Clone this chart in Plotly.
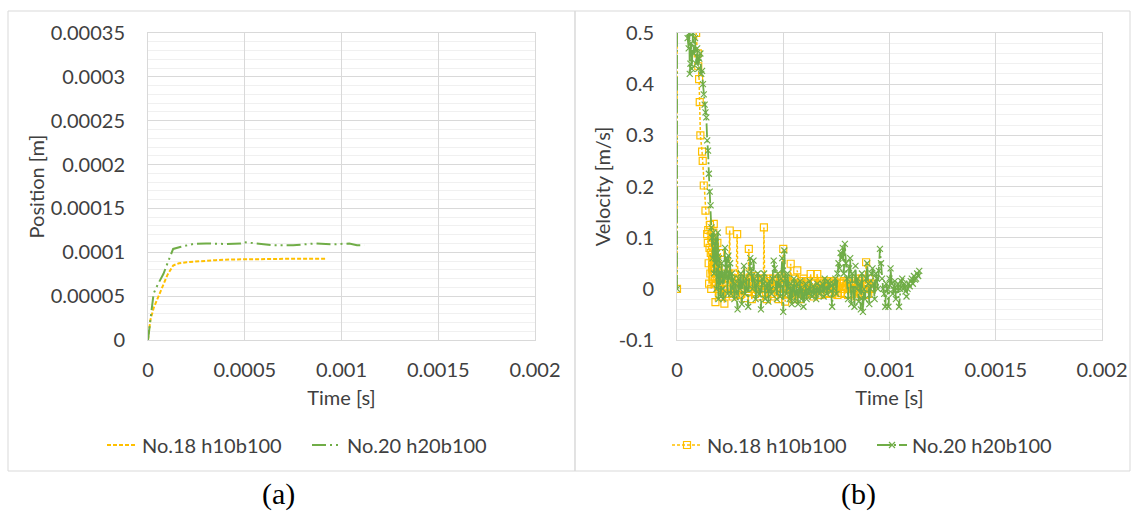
import plotly.graph_objects as go

# ---------------- data ----------------
# (a) Position vs time  (time in microseconds, position in metres)
pos18_t_us = [0, 12, 30, 46, 62, 80, 100, 130, 160, 200, 260, 350, 430, 500, 600, 700, 800, 920]
pos18_y = [0, 0.0000226, 0.000037, 0.0000453, 0.000055, 0.000064, 0.000074, 0.000085, 0.0000875,
           0.0000887, 0.0000898, 0.0000910, 0.0000918, 0.0000922, 0.0000924, 0.0000925, 0.0000925, 0.0000925]

pos20_t_us = [0, 10, 20, 29, 50, 80, 105, 130, 166, 234, 300, 400, 480, 500, 560, 650, 750, 860, 950, 1000, 1040, 1080, 1118]
pos20_y = [0, 0.000018, 0.000034, 0.000053, 0.000063, 0.0000755, 0.000090, 0.0001038, 0.000106, 0.0001095,
           0.000110, 0.0001095, 0.000110, 0.0001115, 0.000110, 0.000108, 0.000108, 0.000110, 0.000109,
           0.000110, 0.000110, 0.000108, 0.000108]

# (b) Velocity vs time (time in microseconds, velocity in m/s)
vel18_t_us = [0, 5, 90, 98, 100, 104, 107, 110, 118, 121, 126, 134, 142, 145, 147, 149, 151, 153, 155, 157,
              159, 161, 163, 165, 167, 169, 171, 173, 175, 177, 179, 181, 184, 187, 190, 193, 196, 200, 204,
              208, 212, 216, 220, 223, 228, 233, 238, 243, 248, 252, 257, 262, 267, 272, 277, 283, 287, 292,
              297, 302, 308, 313, 318, 323, 328, 333, 338, 342, 347, 352, 357, 362, 367, 372, 377, 382, 387,
              392, 397, 402, 407, 409, 413, 418, 423, 428, 433, 438, 443, 448, 453, 458, 463, 468, 473, 478,
              483, 488, 493, 497, 500, 504, 509, 514, 519, 524, 529, 535, 540, 545, 550, 555, 560, 566, 571,
              576, 581, 586, 591, 596, 601, 606, 611, 616, 621, 629, 634, 639, 644, 649, 654, 660, 665, 670,
              675, 680, 685, 690, 695, 700, 705, 710, 715, 720, 725, 730, 735, 740, 745, 750, 755, 760, 765,
              770, 775, 780, 785, 790, 795, 800, 805, 810, 815, 820, 825, 830, 835, 840, 845, 850, 855, 860,
              865, 870, 875, 880, 885, 890, 895, 900, 905, 910, 915, 920, 925, 928]
vel18_v = [0, 5.0, 0.50, 0.46, 0.435, 0.41, 0.365, 0.30, 0.268, 0.25, 0.202, 0.153, 0.107, 0.09, 0.115, 0.05,
           0.01, 0.08, 0.125, 0.03, 0.07, 0.0, 0.10, 0.04, 0.06, 0.02, 0.11, 0.127, 0.05, 0.01, 0.085, -0.026,
           0.06, 0.02, 0.09, 0.0, 0.04, -0.01, 0.07, 0.02, -0.015, 0.03, 0.0, -0.029, 0.02, 0.005, -0.01, 0.03,
           0.114, 0.0, 0.02, -0.015, 0.01, 0.03, -0.01, 0.107, 0.0, 0.02, -0.012, 0.015, 0.0, 0.02, -0.018,
           0.01, 0.03, -0.005, 0.078, 0.0, 0.02, -0.02, 0.01, 0.025, -0.01, 0.015, 0.0, 0.02, -0.015, 0.005,
           0.018, -0.008, 0.02, 0.12, 0.0, 0.01, -0.02, 0.015, 0.0, 0.02, -0.01, 0.005, 0.02, -0.015, 0.01,
           0.0, 0.015, -0.02, 0.01, 0.025, -0.01, 0.02, 0.078, 0.005, -0.025, 0.02, -0.01, 0.015, 0.0, 0.049,
           -0.015, 0.01, -0.02, 0.02, 0.0, 0.036, -0.01, 0.01, -0.02, 0.015, 0.0, 0.02, -0.012, 0.01, -0.005,
           0.015, 0.0, 0.029, -0.01, 0.01, -0.015, 0.012, 0.0, 0.029, -0.005, 0.01, -0.012, 0.015, 0.0, 0.012,
           -0.01, 0.005, 0.015, -0.008, 0.01, 0.0, 0.012, -0.01, 0.008, 0.015, -0.005, 0.01, -0.012, 0.005,
           0.012, -0.008, 0.01, 0.0, 0.015, -0.01, 0.005, 0.012, -0.012, 0.008, 0.0, 0.015, -0.01, 0.01,
           0.0, 0.02, -0.015, 0.01, -0.005, 0.015, -0.01, 0.02, 0.0, 0.01, -0.012, 0.052, 0.01, -0.01, 0.02,
           0.0, 0.01, 0.003]

vel20_t_us = [0, 3, 50, 55, 58, 60, 63, 66, 70, 75, 80, 85, 90, 95, 100, 105, 110, 114, 118, 122, 126, 130,
              134, 138, 142, 146, 150, 154, 158, 162, 165, 168, 171, 174, 177, 180, 183, 186, 189, 192, 195,
              198, 202, 206, 210, 214, 218, 222, 226, 230, 234, 238, 242, 246, 250, 254, 258, 262, 266, 270,
              275, 280, 285, 290, 295, 300, 305, 310, 315, 320, 325, 330, 335, 340, 345, 350, 355, 360, 365,
              370, 375, 380, 385, 390, 395, 400, 405, 410, 415, 420, 425, 430, 435, 440, 445, 450, 455, 460,
              465, 470, 475, 480, 485, 490, 495, 500, 505, 510, 515, 520, 525, 530, 535, 540, 545, 550, 555,
              560, 565, 570, 575, 580, 585, 590, 595, 600, 605, 610, 615, 620, 625, 630, 635, 640, 645, 650,
              655, 660, 665, 670, 675, 680, 685, 690, 695, 700, 705, 710, 715, 720, 725, 730, 735, 740, 745,
              750, 755, 760, 765, 770, 775, 780, 785, 790, 795, 800, 805, 810, 815, 820, 825, 830, 835, 840,
              845, 850, 855, 860, 865, 870, 875, 880, 885, 890, 895, 900, 905, 910, 915, 920, 925, 930, 935,
              940, 945, 950, 955, 960, 965, 970, 975, 980, 985, 990, 995, 1000, 1005, 1010, 1015, 1020, 1025,
              1030, 1035, 1040, 1045, 1050, 1055, 1060, 1065, 1070, 1075, 1080, 1085, 1090, 1095, 1100, 1105,
              1110, 1115, 1120, 1125, 1130, 1135, 1140]
vel20_v = [0, 5.0, 0.49, 0.47, 0.50, 0.42, 0.44, 0.48, 0.43, 0.50, 0.46, 0.49, 0.44, 0.47, 0.43, 0.45, 0.46,
           0.42, 0.426, 0.40, 0.38, 0.36, 0.345, 0.335, 0.29, 0.27, 0.225, 0.19, 0.163, 0.12, 0.10, 0.06,
           0.11, 0.03, 0.09, 0.05, 0.10, 0.0, 0.07, 0.11, -0.02, 0.06, 0.02, -0.015, 0.05, 0.0, -0.02, 0.03,
           0.08, 0.02, 0.06, -0.01, 0.065, 0.02, 0.05, -0.01, 0.03, 0.0, 0.02, -0.02, 0.01, -0.01, -0.04, 0.02,
           0.0, 0.03, -0.03, 0.01, 0.045, -0.01, 0.02, 0.0, -0.035, 0.03, 0.06, 0.04, 0.0, 0.055, 0.02, -0.02,
           0.01, 0.03, -0.01, 0.0, -0.04, 0.02, 0.01, 0.03, -0.02, 0.0, 0.01, -0.025, 0.015, 0.0, -0.01, 0.02,
           0.055, 0.04, 0.0, -0.02, 0.03, 0.01, -0.015, 0.02, 0.06, -0.045, 0.075, 0.02, -0.01, 0.03, 0.0,
           -0.02, 0.01, -0.03, 0.0, 0.02, -0.025, -0.01, 0.01, -0.03, 0.0, 0.015, -0.02, 0.0, -0.035, -0.01,
           0.01, -0.02, 0.0, -0.01, 0.015, -0.005, -0.015, 0.005, -0.01, 0.0, -0.02, 0.01, 0.0, -0.01, 0.005,
           -0.005, 0.01, -0.015, 0.02, 0.0, -0.01, 0.015, 0.0, 0.01, -0.005, -0.035, 0.01, 0.0, 0.02, -0.01,
           0.03, 0.05, 0.04, 0.07, 0.06, 0.08, 0.03, 0.088, 0.05, 0.02, -0.02, 0.04, 0.06, -0.03, 0.03, 0.0,
           -0.035, 0.045, 0.0, 0.02, -0.025, 0.01, -0.04, 0.03, -0.045, 0.0, -0.02, 0.02, 0.05, 0.01, -0.03,
           0.0, 0.03, 0.04, 0.01, -0.02, 0.03, 0.02, 0.0, 0.035, 0.078, 0.05, 0.02, 0.0, -0.01, -0.035, 0.01,
           0.0, -0.035, 0.02, 0.04, 0.01, -0.01, 0.0, 0.015, -0.02, 0.0, 0.01, -0.035, 0.0, 0.015, 0.02, 0.0,
           0.01, -0.005, -0.015, 0.0, 0.01, 0.005, 0.015, 0.02, 0.01, 0.025, 0.018, 0.02, 0.03, 0.025, 0.035]

series_names = ["No.18 h10b100", "No.20 h20b100"]
panel_labels = ["(a)", "(b)"]

x_tickvals = [0, 0.0005, 0.001, 0.0015, 0.002]
x_ticktext = ["0", "0.0005", "0.001", "0.0015", "0.002"]
pos_tickvals = [0, 0.00005, 0.0001, 0.00015, 0.0002, 0.00025, 0.0003, 0.00035]
pos_ticktext = ["0", "0.00005", "0.0001", "0.00015", "0.0002", "0.00025", "0.0003", "0.00035"]
vel_tickvals = [-0.1, 0, 0.1, 0.2, 0.3, 0.4, 0.5]
vel_ticktext = ["-0.1", "0", "0.1", "0.2", "0.3", "0.4", "0.5"]

# ---------------- styling ----------------
ORANGE = "#FFC000"
GREEN = "#70AD47"
GRID = "#d9d9d9"
MINOR = "#f0f0f0"
TXT = "#404040"
FONT = "Lato"
FS = 20

W, H = 1131, 512
us = 1e-6

fig = go.Figure()

fig.add_trace(go.Scatter(x=[t * us for t in pos18_t_us], y=pos18_y, mode="lines", name=series_names[0],
                         line=dict(color=ORANGE, width=2, dash="4px,2px"), xaxis="x", yaxis="y",
                         legend="legend"))
fig.add_trace(go.Scatter(x=[t * us for t in pos20_t_us], y=pos20_y, mode="lines", name=series_names[1],
                         line=dict(color=GREEN, width=2, dash="14px,4px,2px,4px,2px,4px"), xaxis="x", yaxis="y",
                         legend="legend"))

fig.add_trace(go.Scatter(x=[t * us for t in vel18_t_us], y=vel18_v, mode="lines+markers", name=series_names[0],
                         line=dict(color=ORANGE, width=1.5, dash="3px,2px"),
                         marker=dict(symbol="square-open", size=7, color=ORANGE, line=dict(width=1.2)),
                         xaxis="x2", yaxis="y2", legend="legend2"))
fig.add_trace(go.Scatter(x=[t * us for t in vel20_t_us], y=vel20_v, mode="lines+markers", name=series_names[1],
                         line=dict(color=GREEN, width=1.8, dash="14px,3px,2px,3px"),
                         marker=dict(symbol="x-thin-open", size=6, color=GREEN, line=dict(width=1.2, color=GREEN)),
                         xaxis="x2", yaxis="y2", legend="legend2"))

ytop = 1 - 33 / H
ybot = 1 - 340 / H

common_axis = dict(showgrid=True, gridcolor=GRID, gridwidth=1, zeroline=False, showline=True,
                   linecolor=GRID, linewidth=1, mirror=True, ticks="", automargin=False,
                   tickfont=dict(family=FONT, size=FS, color=TXT))

fig.update_layout(
    width=W, height=H,
    margin=dict(l=0, r=0, t=0, b=0, autoexpand=False),
    paper_bgcolor="white", plot_bgcolor="white",
    font=dict(family=FONT, color=TXT),
    xaxis=dict(domain=[148 / W, 535 / W], anchor="y", range=[0, 0.002], tickmode="array",
               tickvals=x_tickvals, ticktext=x_ticktext, ticklabelstandoff=12,
               title=dict(text="Time [s]", font=dict(family=FONT, size=FS, color=TXT), standoff=10),
               **common_axis),
    yaxis=dict(domain=[ybot, ytop], anchor="x", range=[0, 0.00035], tickmode="array",
               tickvals=pos_tickvals, ticktext=pos_ticktext, ticklabelstandoff=18,
               minor=dict(tickmode="linear", tick0=0, dtick=0.00001, showgrid=True, gridcolor=MINOR, ticks=""),
               title=dict(text="Position [m]", font=dict(family=FONT, size=FS, color=TXT), standoff=0),
               **common_axis),
    xaxis2=dict(domain=[677 / W, 1102 / W], anchor="y2", range=[0, 0.002], tickmode="array",
                tickvals=x_tickvals, ticktext=x_ticktext, ticklabelstandoff=12,
                title=dict(text="Time [s]", font=dict(family=FONT, size=FS, color=TXT), standoff=10),
                **common_axis),
    yaxis2=dict(domain=[ybot, ytop], anchor="x2", range=[-0.1, 0.5], tickmode="array",
                tickvals=vel_tickvals, ticktext=vel_ticktext, ticklabelstandoff=18,
                minor=dict(tickmode="linear", tick0=0, dtick=0.02, showgrid=True, gridcolor=MINOR, ticks=""),
                title=dict(text="Velocity [m/s]", font=dict(family=FONT, size=FS, color=TXT), standoff=2),
                **common_axis),
    legend=dict(orientation="h", x=307 / W, xanchor="center", y=1 - 445 / H, yanchor="middle",
                font=dict(family=FONT, size=FS, color=TXT), bgcolor="rgba(0,0,0,0)",
                entrywidth=160, entrywidthmode="pixels", tracegroupgap=0),
    legend2=dict(orientation="h", x=872 / W, xanchor="center", y=1 - 445 / H, yanchor="middle",
                 font=dict(family=FONT, size=FS, color=TXT), bgcolor="rgba(0,0,0,0)",
                 entrywidth=160, entrywidthmode="pixels", tracegroupgap=0),
    showlegend=True,
)

# panel frames
fig.add_shape(type="rect", xref="paper", yref="paper", x0=8 / W, x1=575 / W, y0=1 - 471 / H, y1=1 - 11 / H,
              line=dict(color=GRID, width=1), layer="below")
fig.add_shape(type="rect", xref="paper", yref="paper", x0=575 / W, x1=1130 / W, y0=1 - 471 / H, y1=1 - 11 / H,
              line=dict(color=GRID, width=1), layer="below")

# panel labels
for lab, xc in zip(panel_labels, [278, 858]):
    fig.add_annotation(text=lab, xref="paper", yref="paper", x=xc / W, y=1 - 494 / H, showarrow=False,
                       xanchor="center", yanchor="middle",
                       font=dict(family="Liberation Serif", size=30, color="#000000"))

fig.write_html("out.html")
